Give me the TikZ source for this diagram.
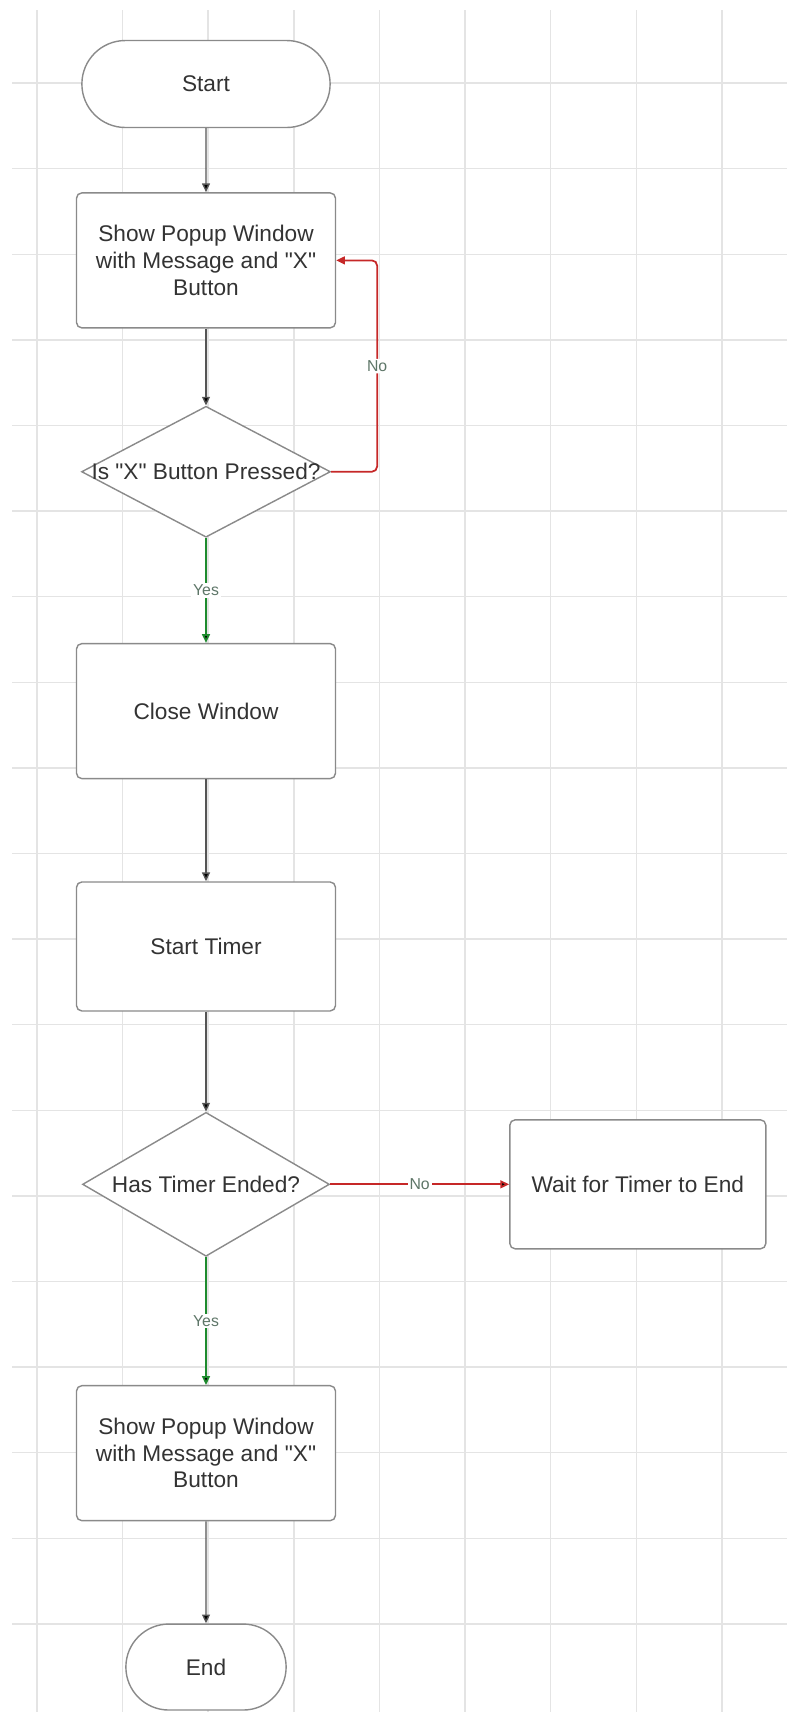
\documentclass[tikz,border=0pt]{standalone}
\usepackage{fontspec}
\setmainfont{Liberation Sans}
\usepackage{tikz}
\usetikzlibrary{arrows.meta, positioning, shapes.geometric, shapes.misc}

\definecolor{gridgray}{HTML}{E4E4E4}
\definecolor{boxgray}{HTML}{8A8A8A}
\definecolor{linegray}{HTML}{555555}
\definecolor{noRed}{HTML}{C62828}
\definecolor{yesGreen}{HTML}{1E8B2E}
\definecolor{labelgray}{HTML}{5E7668}

\begin{document}
\begin{tikzpicture}[x=0.02cm, y=-0.02cm, node distance=2cm,
        font=\fontsize{12.9}{15.1}\selectfont, text=black!80,
        term/.style={rounded rectangle, draw=boxgray, line width=0.8pt, fill=white, minimum width=5.2cm, minimum height=1.74cm},
        proc/.style={rectangle, rounded corners=3pt, draw=boxgray, line width=0.8pt, fill=white, minimum width=5.18cm, minimum height=2.7cm, align=center},
        decision/.style={diamond, draw=boxgray, line width=0.8pt, fill=white, inner sep=0pt},
        lbl/.style={fill=white, text=labelgray, font=\fontsize{9}{10}\selectfont, inner sep=1pt},
        flow/.style={draw=linegray, line width=0.8pt, -{Triangle[length=5pt, width=4.5pt]}}]
        % background grid
        \useasboundingbox (0,0) rectangle (787,1712);
        \foreach \gx in {0,...,8}
            \draw[gridgray, line width=0.8pt] (37+85.6*\gx,10) -- (37+85.6*\gx,1712);
        \foreach \gy in {0,...,18}
            \draw[gridgray, line width=0.8pt] (12,83+85.6*\gy) -- (787,83+85.6*\gy);

        \node[term] (start) at (206,84) {Start};
        \node[proc] (show) [below=1.28cm of start] {Show Popup Window\\with Message and \textquotedbl X\textquotedbl\\Button};
        \node[decision, minimum width=4.98cm, minimum height=2.62cm] (pressed) [below=1.54cm of show] {\makebox[0pt]{Is \textquotedbl X\textquotedbl{} Button Pressed?}};
        \node[proc] (close) [below=2.1cm of pressed] {Close Window};
        \node[proc, minimum height=2.58cm] (timer) [below=2.04cm of close] {Start Timer};
        \node[decision, minimum width=4.94cm, minimum height=2.88cm] (ended) [below=2.0cm of timer] {\makebox[0pt]{Has Timer Ended?}};
        \node[proc, minimum width=5.12cm, minimum height=2.58cm] (wait) [right=3.58cm of ended] {Wait for Timer to End};
        \node[proc] (showb) [below=2.56cm of ended] {Show Popup Window\\with Message and \textquotedbl X\textquotedbl\\Button};
        \node[term, minimum width=3.44cm, minimum height=1.72cm] (end) [below=2.04cm of showb] {End};

        \path[flow] (start) edge (show)
                    (show) edge (pressed)
                    (close) edge (timer)
                    (timer) edge (ended)
                    (showb) edge (end);
        \path[flow, draw=yesGreen, line width=1pt] (pressed) edge node[lbl] {Yes} (close)
                    (ended) edge node[lbl] {Yes} (showb);
        \path[flow, draw=noRed, line width=1pt] (ended) edge node[lbl] {No} (wait);
        \draw[flow, draw=noRed, line width=1pt, rounded corners=3pt] (pressed.east) -- ++(0.92cm,0) |- node[lbl, pos=0.25] {No} (show.east);
    \end{tikzpicture}
\end{document}
